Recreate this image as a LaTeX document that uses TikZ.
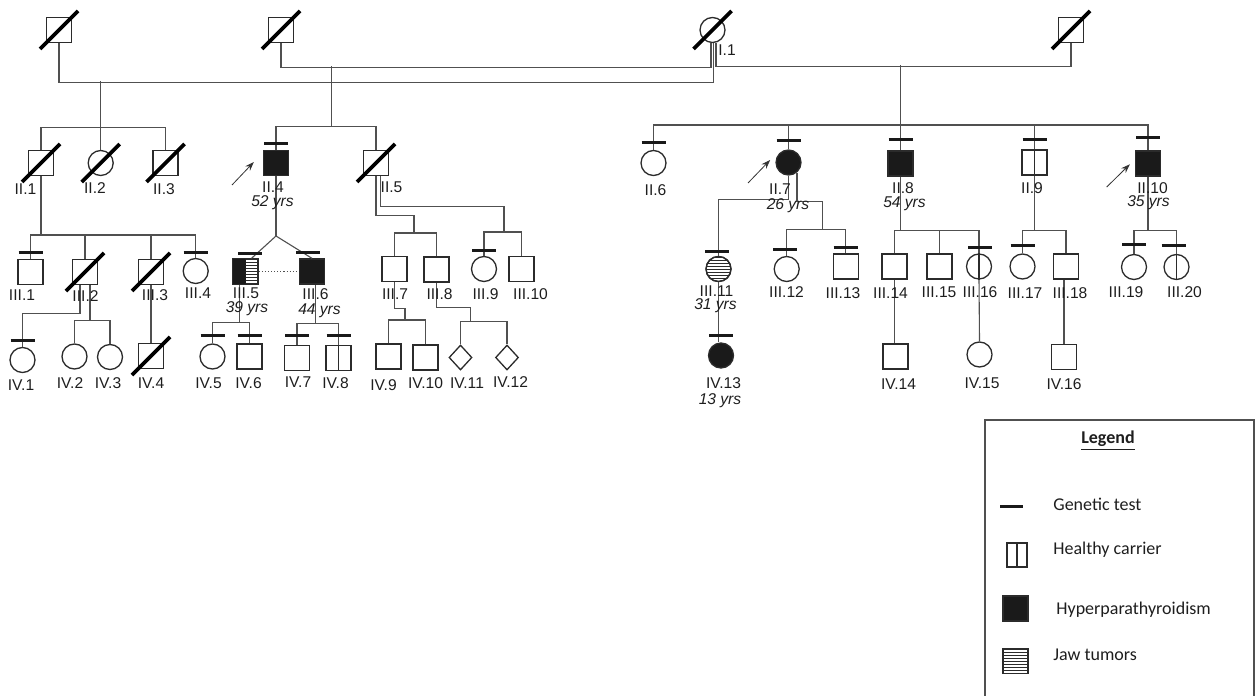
\documentclass[tikz,border=0pt]{standalone}
\usepackage{fontspec}
\setmainfont{Liberation Sans}
\newfontfamily\legendfont{Carlito}
\usepackage{tikz}
\usetikzlibrary{arrows.meta, calc, shapes.geometric}
\definecolor{cline}{HTML}{505050}
\definecolor{csym}{HTML}{2B2B2B}
\definecolor{cfill}{HTML}{1A1A1A}
\definecolor{ctext}{HTML}{1E1E1E}

\newcommand{\pdead}[1]{\draw[slash] ([shift={(-9.5pt,-9.5pt)}]#1.center) -- ([shift={(9.5pt,9.5pt)}]#1.center);}
\newcommand{\ptest}[2][(0pt,3.5pt)]{\draw[testbar] ([shift={#1}]#2.north) ++(-6pt,0pt) -- ++(12pt,0pt);}
\newcommand{\pcarrier}[1]{\draw[csym, line width=0.6pt] (#1.north) -- (#1.south);}
\newcommand{\pstripes}[2]{%
  \begin{scope}
    \clip #2;
    \foreach \k in {-4,...,4}{
      \draw[csym, line width=0.4pt] ([shift={(-7pt,\k*1.5pt)}]#1.center) -- ++(14pt,0pt);
    }
  \end{scope}}

\begin{document}
\begin{tikzpicture}[x=0.5pt, y=-0.5pt,
  person/.style={draw=csym, line width=0.65pt, inner sep=0pt, minimum size=12.5pt},
  male/.style={person, rectangle},
  female/.style={person, circle},
  unkn/.style={person, diamond, minimum width=11.5pt, minimum height=12.5pt},
  affected/.style={fill=cfill},
  line/.style={draw=cline, line width=0.55pt},
  slash/.style={draw=black, line width=1.9pt},
  testbar/.style={draw=black!90, line width=1.6pt},
  lbl/.style={font=\fontsize{7.8}{9}\selectfont, inner sep=0pt, text=ctext},
  age/.style={font=\fontsize{7.8}{9}\selectfont\itshape, inner sep=0pt, text=ctext},
  lgtext/.style={font=\legendfont\fontsize{9}{11}\selectfont, inner sep=0pt, anchor=west, text=ctext},
  proband/.style={draw=black!80, line width=0.4pt, -{Stealth[length=4.5pt,width=3.2pt]}}]
  \useasboundingbox (0,0) rectangle (1256,695);

  % generation I
  \node[male] (A) at (59,30) {};
  \node[male] (B) at (281,30) {};
  \node[female] (I1) at (712.5,30) {};
  \node[male] (C) at (1071,30) {};
  \draw[line] (A.south) -- ++(0,39) -| ([xshift=0.5pt]I1.south);
  \draw[line] (B.south) -- ++(0,24) -| ([xshift=-0.75pt]I1.south);
  \draw[line] (C.south) -- ++(0,23) -| ([xshift=1.75pt]I1.south);
  \coordinate (mA) at (100.7,81.5);
  \coordinate (mB) at (331.7,66.5);
  \coordinate (mC) at (900.5,65.5);

  % generation II
  \node[male] (II1) at (41,163) {};
  \node[female] (II2) at (100.7,163) {};
  \node[male] (II3) at (165.5,163) {};
  \node[male, affected] (II4) at (276,163) {};
  \node[male] (II5) at (376,163) {};
  \node[female] (II6) at (653.5,163) {};
  \node[female, affected] (II7) at (788.5,162.5) {};
  \node[male, affected] (II8) at (900.5,163.5) {};
  \node[male] (II9) at (1034.5,162.5) {};
  \node[male, affected] (II10) at (1148,163.5) {};
  \coordinate (sibII) at (0,125);
  \draw[line] (mA) -- (II2.north);
  \draw[line] (II1.north) -- ++(0,-22.5) -| (II3.north);
  \draw[line] (mB) -- ++(0,60.5);
  \draw[line] (II4.north) -- ++(0,-23.5) -| (II5.north);
  \draw[line] (II6.north) |- (II10.north |- sibII) -- (II10.north);
  \draw[line] (mC) -- (II8.north);
  \foreach \n in {II7,II9}{
    \draw[line] (\n.north) -- (\n.north |- sibII);
  }

  % generation III
  \node[male] (III1) at (30.5,272) {};
  \node[male] (III2) at (85,272) {};
  \node[male] (III3) at (151,272) {};
  \node[female] (III4) at (195.7,271) {};
  \node[male] (III5) at (245.5,271.5) {};
  \node[male, affected] (III6) at (312,271.5) {};
  \node[male] (III7) at (394.5,269) {};
  \node[male] (III8) at (436.5,269.5) {};
  \node[female] (III9) at (484,269) {};
  \node[male] (III10) at (521.5,269) {};
  \node[female] (III11) at (718.5,269) {};
  \node[female] (III12) at (786.7,269) {};
  \node[male] (III13) at (845.7,266.5) {};
  \node[male] (III14) at (894.5,266.5) {};
  \node[male] (III15) at (939.5,266.5) {};
  \node[female] (III16) at (979,266.5) {};
  \node[female] (III17) at (1022.5,266.5) {};
  \node[male] (III18) at (1066,266.5) {};
  \node[female] (III19) at (1134,267) {};
  \node[female] (III20) at (1176.5,267) {};
  % III.5: half affected, half jaw tumour
  \fill[cfill] (III5.north west) rectangle (III5.south);
  \pstripes{III5}{(III5.north) rectangle (III5.south east)}
  \draw[csym, line width=0.65pt] (III5.north west) rectangle (III5.south east);
  \pstripes{III11}{(III11.center) circle (6.25pt)}
  \draw[csym, line width=0.65pt] (III11.center) circle (6.25pt);

  \coordinate (s31) at (0,235);
  \draw[line] (II1.south) -- (II1.south |- s31);
  \draw[line] (III1.north) |- (III4.north |- s31) -- (III4.north);
  \foreach \n in {III2,III3}{
    \draw[line] (\n.north) -- (\n.north |- s31);
  }
  % twins of II.4
  \coordinate (tw) at (277,236);
  \draw[line] (II4.south) -- (II4.south |- tw);
  \draw[line] (II4.south |- tw) -- ([xshift=3pt]III5.north);
  \draw[line] (II4.south |- tw) -- (III6.north);
  \draw[line, densely dotted] (III5.east) -- (III6.west);
  % II.5
  \coordinate (j78) at (414,233);
  \coordinate (j910) at (504,232);
  \draw[line] (II5.south) -- ++(0,39) -| (j78);
  \draw[line] ([xshift=2.25pt]II5.south) -- ++(0,30.5) -| (j910);
  \draw[line] (III7.north) |- (III8.north |- j78) -- (III8.north);
  \draw[line] (III9.north) |- (III10.north |- j910) -- (III10.north);
  % II.7
  \coordinate (k1213) at (822.7,229.3);
  \draw[line] (II7.south) -- ++(0,24.3) -| (III11.north);
  \draw[line] (II7.-50) -- ++(0,28.6) -| (k1213);
  \draw[line] (III12.north) |- (III13.north |- k1213) -- (III13.north);
  % II.8, II.9, II.10
  \coordinate (s38) at (0,230.7);
  \foreach \n in {II8,II9,II10}{
    \draw[line] (\n.south) -- (\n.south |- s38);
  }
  \draw[line] (III14.north) |- (III16.north |- s38) -- (III16.north);
  \draw[line] (III15.north) -- (III15.north |- s38);
  \draw[line] (III17.north) |- (III18.north |- s38) -- (III18.north);
  \draw[line] (III19.north) |- (III20.north |- s38) -- (III20.north);

  % generation IV
  \node[female] (IV1) at (22.5,360) {};
  \node[female] (IV2) at (74.5,356.5) {};
  \node[female] (IV3) at (110,357) {};
  \node[male] (IV4) at (151,356) {};
  \node[female] (IV5) at (212.5,356.5) {};
  \node[male] (IV6) at (249.5,356.5) {};
  \node[male] (IV7) at (297,358) {};
  \node[male] (IV8) at (338.5,358) {};
  \node[male] (IV9) at (388.5,356.5) {};
  \node[male] (IV10) at (425.5,357.5) {};
  \node[unkn] (IV11) at (460.5,357.5) {};
  \node[unkn] (IV12) at (507,357.5) {};
  \node[female, affected] (IV13) at (721,355.5) {};
  \node[male] (IV14) at (895.5,356.5) {};
  \node[female] (IV15) at (979.5,354.5) {};
  \node[male] (IV16) at (1064,357) {};

  \draw[line] ([xshift=-2.5pt]III2.south) -- ++(0,28.5) -| (IV1.north);
  \draw[line] ([xshift=2.5pt]III2.south) -- ++(0,35.5) coordinate (k23);
  \draw[line] (IV2.north) |- (IV3.north |- k23) -- (IV3.north);
  \draw[line] (III3.south) -- (IV4.north);
  \draw[line] ([xshift=-3pt]III5.south) -- ++(0,38) coordinate (k56);
  \draw[line] (IV5.north) |- (IV6.north |- k56) -- (IV6.north);
  \draw[line] ([xshift=1.65pt]III6.south) -- ++(0,39) coordinate (k67);
  \draw[line] (IV7.north) |- (IV8.north |- k67) -- (IV8.north);
  \coordinate (k910) at (405,320);
  \coordinate (k1112) at (470.7,321.7);
  \draw[line] (III7.south) -- ++(0,26.5) -| (k910);
  \draw[line] (IV9.north) |- (IV10.north |- k910) -- (IV10.north);
  \draw[line] (III8.south) -- ++(0,24.7) -| (k1112);
  \draw[line] (IV11.north) |- (IV12.north |- k1112) -- (IV12.north);
  \draw[line] (III11.south) -- (III11.south |- IV13.north);
  \draw[line] (III14.south) -- (III14.south |- IV14.north);
  \draw[line] (III16.south) -- (IV15.north);
  \draw[line] (IV16.north |- III18.south) -- (IV16.north);

  % marks: deceased, carriers, genetic tests
  \foreach \n in {A,B,I1,C,II1,II2,II3,II5,III2,III3,IV4}{
    \pdead{\n}
  }
  \foreach \n in {II9,III16,III20,IV8}{
    \pcarrier{\n}
  }
  \foreach \n/\d in {II4/3pt, II6/3.5pt, II7/4.5pt, II8/5.5pt, II9/5pt, II10/6.3pt,
      III1/3pt, III4/2.5pt, III9/2.5pt, III13/3pt, III17/4pt, III19/4.5pt,
      IV1/3pt, IV5/4pt, IV6/4pt, IV7/4.5pt, IV8/4.5pt, IV13/3.5pt}{
    \ptest[(0pt,\d)]{\n}
  }
  \ptest[(2.25pt,2.5pt)]{III5}
  \ptest[(-2pt,3pt)]{III6}
  \ptest[(-0.75pt,2.2pt)]{III11}
  \ptest[(-0.75pt,3pt)]{III12}
  \ptest[(0.5pt,3pt)]{III16}
  \ptest[(-1.5pt,4pt)]{III20}

  % probands
  \coordinate (p4) at (232,185);
  \coordinate (p7) at (748,183);
  \coordinate (p10) at (1106.7,187);
  \draw[proband] (p4) -- ([shift={(-4.5pt,0.5pt)}]II4.west);
  \draw[proband] (p7) -- ([shift={(-2.6pt,1.25pt)}]II7.west);
  \draw[proband] (p10) -- ([shift={(-2.5pt,-0.4pt)}]II10.west);

  % labels
  \foreach \t/\n/\x/\y in {I.1/I1/727/50,
      II.1/II1/25.5/189, II.2/II2/95/188.5, II.3/II3/164/189.5, II.4/II4/273/187.5,
      II.5/II5/391.5/187.5, II.6/II6/655.5/190, II.7/II7/780/189, II.8/II8/903/188,
      II.9/II9/1032/188, II.10/II10/1152.5/188,
      III.1/III1/22/295, III.2/III2/85.5/296, III.3/III3/155/295, III.4/III4/198/293,
      III.5/III5/246/293, III.6/III6/315.5/294, III.7/III7/395/294, III.8/III8/439.5/294,
      III.9/III9/485.5/294, III.10/III10/530.5/294, III.11/III11/716.5/291,
      III.12/III12/786.5/292, III.13/III13/843/293.5, III.14/III14/890.5/293,
      III.15/III15/939/292, III.16/III16/980/292, III.17/III17/1025/293,
      III.18/III18/1070/293, III.19/III19/1126/292, III.20/III20/1184.5/292,
      IV.1/IV1/21/385, IV.2/IV2/70/383, IV.3/IV3/108/383, IV.4/IV4/151/383,
      IV.5/IV5/208.5/383, IV.6/IV6/248.5/383, IV.7/IV7/298/382, IV.8/IV8/335.5/383,
      IV.9/IV9/383.5/385, IV.10/IV10/425.5/383, IV.11/IV11/467/383, IV.12/IV12/510.5/382,
      IV.13/IV13/723.5/383, IV.14/IV14/898.5/384, IV.15/IV15/982/383, IV.16/IV16/1064/384}{
    \node[lbl] (t\n) at (\x,\y) {\t};
  }
  \foreach \t/\n/\x/\y in {52/II4/272.5/203, 26/II7/788/205.5, 54/II8/904.5/204,
      35/II10/1148.5/203, 39/III5/247/309, 44/III6/319.5/311, 31/III11/715.5/306,
      13/IV13/720/401}{
    \node[age] (a\n) at (\x,\y) {\t\ yrs};
  }

  % legend
  \draw[cline, line width=0.6pt] (985,697) -- (985,420) -- (1254,420) -- (1254,697);
  \node[font=\legendfont\fontsize{9}{11}\selectfont\bfseries, text=ctext, inner sep=0pt] (lgd) at (1108,441) {\underline{Legend}};
  \draw[testbar] (1000,506.7) -- (1023,506.7);
  \node[lgtext] (lg1) at (1053,504) {Genetic test};
  \node[male, minimum width=10pt, minimum height=12pt] (lgc) at (1017,555) {};
  \pcarrier{lgc}
  \node[lgtext] (lg2) at (1053,550) {Healthy carrier};
  \node[male, affected] (lga) at (1015.5,608.5) {};
  \node[lgtext] (lg3) at (1056,610) {Hyperparathyroidism};
  \node[male] (lgj) at (1015.5,661) {};
  \pstripes{lgj}{(lgj.north west) rectangle (lgj.south east)}
  \node[lgtext] (lg4) at (1053,655) {Jaw tumors};
\end{tikzpicture}
\end{document}
